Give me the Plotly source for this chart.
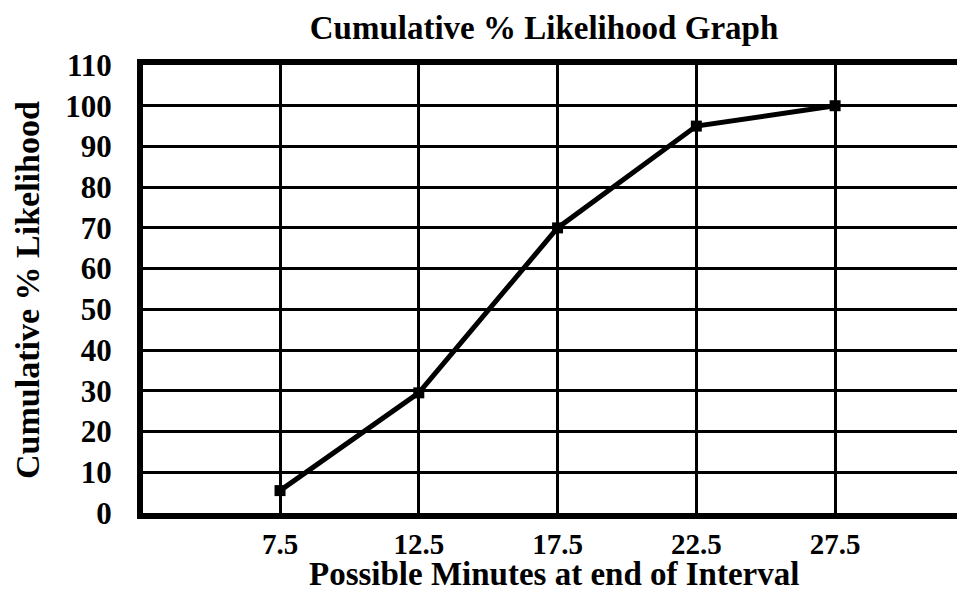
import plotly.graph_objects as go

minutes = [7.5, 12.5, 17.5, 22.5, 27.5]
cum_likelihood = [5.5, 29.5, 70, 95, 100]
x_ticks = [7.5, 12.5, 17.5, 22.5, 27.5]
x_tick_labels = ["7.5", "12.5", "17.5", "22.5", "27.5"]
y_ticks = list(range(0, 111, 10))

FONT = "Liberation Serif"

fig = go.Figure()
fig.add_trace(go.Scatter(
    x=minutes, y=cum_likelihood, mode="lines+markers",
    line=dict(color="black", width=5),
    marker=dict(symbol="square", size=11, color="black"),
    showlegend=False, cliponaxis=False,
))

fig.update_layout(
    width=957, height=587,
    margin=dict(l=135, r=0, t=57, b=82, autoexpand=False),
    paper_bgcolor="white", plot_bgcolor="white",
    font=dict(family=FONT, color="black"),
    title=dict(text="<b>Cumulative % Likelihood Graph</b>",
               font=dict(family=FONT, size=33, color="black"),
               x=536/957, xanchor="center", xref="container",
               y=1-19/587, yanchor="middle", yref="container"),
    annotations=[
        dict(text="<b>Possible Minutes at end of Interval</b>",
             xref="paper", yref="paper", x=0.5, y=-0.1365,
             xanchor="center", yanchor="middle", showarrow=False,
             font=dict(family=FONT, size=33, color="black")),
        dict(text="<b>Cumulative % Likelihood</b>",
             xref="paper", yref="paper", x=-0.1399, y=0.4978,
             xanchor="center", yanchor="middle", showarrow=False, textangle=-90,
             font=dict(family=FONT, size=34, color="black")),
    ],
)

fig.update_xaxes(
    range=[2.563, 32.18],
    tickvals=x_ticks, ticktext=[f"<b>{t}</b>" for t in x_tick_labels],
    tickfont=dict(family=FONT, size=29, color="black"),
    showgrid=True, gridcolor="black", gridwidth=2.5,
    showline=True, linecolor="black", linewidth=6, mirror=True,
    ticks="", ticklabelstandoff=0, zeroline=False,
)
fig.update_yaxes(
    range=[0, 110],
    tickvals=y_ticks, ticktext=[f"<b>{t}</b>" for t in y_ticks],
    tickfont=dict(family=FONT, size=31, color="black"),
    showgrid=True, gridcolor="black", gridwidth=3,
    showline=True, linecolor="black", linewidth=6,
    ticks="", ticklabelstandoff=19, zeroline=False,
)

fig.write_html("out.html")
